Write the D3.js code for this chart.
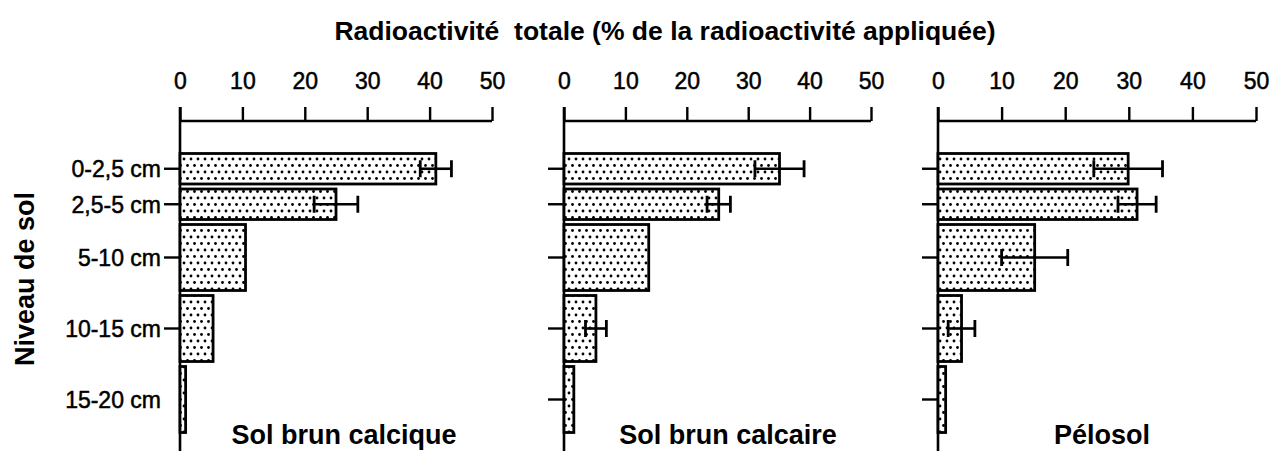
<!DOCTYPE html>
<html>
<head>
<meta charset="utf-8">
<script src="https://cdn.jsdelivr.net/npm/d3@7"></script>
<style>
  body { margin: 0; background: #fff; }
  svg { display: block; font-family: 'Liberation Sans', Arial, Helvetica, sans-serif; }
</style>
</head>
<body>
<div id="chart"></div>
<script>
// depth classes (cm) and their extents on the depth axis
const depthLabels = ['0-2,5 cm', '2,5-5 cm', '5-10 cm', '10-15 cm', '15-20 cm']
const depthTop = [0, 2.5, 5, 10, 15]
const depthBottom = [2.5, 5, 10, 15, 20]

const soils = ['Sol brun calcique', 'Sol brun calcaire', 'Pélosol']

// % of applied radioactivity, per soil
const calciqueValues = [41.0, 25.0, 10.5, 5.3, 0.9]
const calciqueErrors = [2.5, 3.5, null, null, null]
const calcaireValues = [35.1, 25.2, 13.8, 5.2, 1.6]
const calcaireErrors = [4.0, 1.9, null, 1.7, null]
const pelosolValues = [29.9, 31.3, 15.2, 3.7, 1.2]
const pelosolErrors = [5.4, 3.0, 5.2, 2.1, null]

const xTicks = [0, 10, 20, 30, 40, 50]

const seriesValues = [calciqueValues, calcaireValues, pelosolValues]
const seriesErrors = [calciqueErrors, calcaireErrors, pelosolErrors]

const width = 1271
const height = 451

const svg = d3.select('#chart')
  .append('svg')
  .attr('width', width)
  .attr('height', height)

// dotted fill
const pattern = svg.append('defs').append('pattern')
  .attr('id', 'dots')
  .attr('patternUnits', 'userSpaceOnUse')
  .attr('width', 7)
  .attr('height', 13)
pattern.append('rect').attr('width', 7).attr('height', 13).attr('fill', '#fff')
pattern.append('circle').attr('cx', 2).attr('cy', 3).attr('r', 1.4).attr('fill', '#000')
pattern.append('circle').attr('cx', 5.5).attr('cy', 9.5).attr('r', 1.4).attr('fill', '#000')

// ── TITLES ───────────────────────────────────────────────────
svg.append('text')
  .attr('x', 665)
  .attr('y', 40)
  .attr('text-anchor', 'middle')
  .attr('font-size', 26.5)
  .attr('font-weight', 'bold')
  .style('white-space', 'pre')
  .text('Radioactivité  totale (% de la radioactivité appliquée)')

svg.append('text')
  .attr('transform', 'translate(34, 279) rotate(-90)')
  .attr('text-anchor', 'middle')
  .attr('font-size', 27)
  .attr('font-weight', 'bold')
  .text('Niveau de sol')

// depth scale shared by the three panels
const y = d3.scaleLinear().domain([0, 20]).range([151, 435])
const axisY = 121
const pad = 2.5

const panels = [
  { x0: 180, w: 312 },
  { x0: 564, w: 307 },
  { x0: 938, w: 318 }
]

panels.forEach((p, pi) => {
  const x = d3.scaleLinear().domain([0, 50]).range([p.x0, p.x0 + p.w])
  const g = svg.append('g')

  // ── X AXIS (top, ticks pointing up) ────────────────────────
  const xAxis = d3.axisTop(x)
    .tickValues(xTicks)
    .tickSize(14)
    .tickPadding(18)
    .tickFormat(d3.format('d'))

  const ax = g.append('g')
    .attr('transform', `translate(0, ${axisY})`)
    .call(xAxis)
  ax.select('.domain').attr('d', `M${x(0)},0H${x(50)}`).attr('stroke-width', 2.4)
  ax.selectAll('.tick line').attr('stroke-width', 2.4)
  ax.selectAll('.tick text')
    .attr('font-size', 23)
    .attr('fill', '#000')
    .attr('stroke', '#000')
    .attr('stroke-width', 0.5)
    .attr('font-family', null)

  // vertical axis
  g.append('line')
    .attr('x1', x(0)).attr('x2', x(0))
    .attr('y1', axisY - 14).attr('y2', height)
    .attr('stroke', '#000')
    .attr('stroke-width', 2.6)

  const rows = depthLabels.map((label, i) => ({
    label,
    top: depthTop[i],
    bottom: depthBottom[i],
    value: seriesValues[pi][i],
    err: seriesErrors[pi][i]
  }))

  // category ticks (first panel has none for the last class)
  g.selectAll('.cat-tick')
    .data(rows.filter((d, i) => !(pi === 0 && i === rows.length - 1)))
    .join('line')
    .attr('class', 'cat-tick')
    .attr('x1', x(0) - 16).attr('x2', x(0))
    .attr('y1', d => y((d.top + d.bottom) / 2))
    .attr('y2', d => y((d.top + d.bottom) / 2))
    .attr('stroke', '#000')
    .attr('stroke-width', 2.4)

  if (pi === 0) {
    g.selectAll('.cat-label')
      .data(rows)
      .join('text')
      .attr('class', 'cat-label')
      .attr('x', x(0) - 19)
      .attr('y', d => y((d.top + d.bottom) / 2))
      .attr('dy', '0.36em')
      .attr('text-anchor', 'end')
      .attr('font-size', 23)
      .attr('stroke', '#000')
      .attr('stroke-width', 0.5)
      .text(d => d.label)
  }

  // ── BARS ───────────────────────────────────────────────────
  g.selectAll('.bar')
    .data(rows)
    .join('rect')
    .attr('class', 'bar')
    .attr('x', x(0))
    .attr('y', d => y(d.top) + pad)
    .attr('width', d => x(d.value) - x(0))
    .attr('height', d => y(d.bottom) - y(d.top) - 2 * pad)
    .attr('fill', 'url(#dots)')
    .attr('stroke', '#000')
    .attr('stroke-width', 2.8)

  // ── ERROR BARS ─────────────────────────────────────────────
  const errRows = rows.filter(d => d.err !== null)
  const cap = 8.5

  g.selectAll('.err-line')
    .data(errRows)
    .join('line')
    .attr('class', 'err-line')
    .attr('x1', d => x(d.value - d.err))
    .attr('x2', d => x(d.value + d.err))
    .attr('y1', d => y((d.top + d.bottom) / 2))
    .attr('y2', d => y((d.top + d.bottom) / 2))
    .attr('stroke', '#000')
    .attr('stroke-width', 2.6)

  g.selectAll('.err-cap')
    .data(errRows.flatMap(d => [
      { xv: d.value - d.err, yc: (d.top + d.bottom) / 2 },
      { xv: d.value + d.err, yc: (d.top + d.bottom) / 2 }
    ]))
    .join('line')
    .attr('class', 'err-cap')
    .attr('x1', d => x(d.xv)).attr('x2', d => x(d.xv))
    .attr('y1', d => y(d.yc) - cap)
    .attr('y2', d => y(d.yc) + cap)
    .attr('stroke', '#000')
    .attr('stroke-width', 2.8)

  // panel name
  g.append('text')
    .attr('x', p.x0 + 164)
    .attr('y', 444)
    .attr('text-anchor', 'middle')
    .attr('font-size', 27)
    .attr('font-weight', 'bold')
    .text(soils[pi])
})
</script>
</body>
</html>
